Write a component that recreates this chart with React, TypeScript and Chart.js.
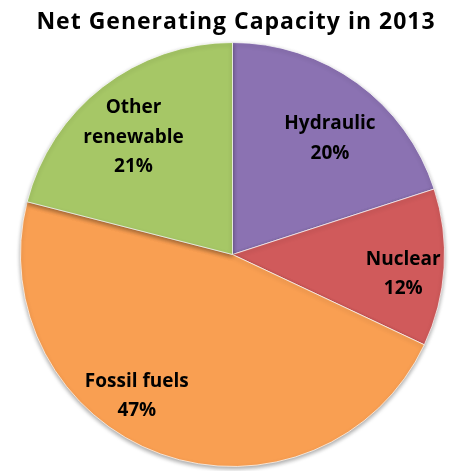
import React, { useEffect, useRef } from "react";
import { Chart, registerables } from "chart.js";

Chart.register(...registerables);

const TITLE = "Net Generating Capacity in 2013";
const categories = ["Hydraulic", "Nuclear", "Fossil fuels", "Other renewable"];
const labelLines = [["Hydraulic"], ["Nuclear"], ["Fossil fuels"], ["Other", "renewable"]];
const values = [20, 12, 47, 21];
const colors = ["#8B72B2", "#D05A5B", "#F99F52", "#A6C766"];
const labelRadius = [0.72, 0.81, 0.8, 0.73];
const labelAngleFrac = [0.551, 0.556, 0.586, 0.474];

const shadowPlugin = {
  id: "sliceShadow",
  beforeDatasetsDraw(chart: any) {
    const ctx = chart.ctx;
    ctx.save();
    ctx.shadowColor = "rgba(0,0,0,0.35)";
    ctx.shadowBlur = 4;
    ctx.shadowOffsetX = 0;
    ctx.shadowOffsetY = 2;
  },
  afterDatasetsDraw(chart: any) {
    chart.ctx.restore();
  },
};

const labelPlugin = {
  id: "sliceLabels",
  afterDatasetsDraw(chart: any) {
    const ctx = chart.ctx;
    const meta = chart.getDatasetMeta(0);
    const total = values.reduce((a, b) => a + b, 0);
    ctx.save();
    ctx.shadowColor = "transparent";
    ctx.fillStyle = "#000";
    ctx.textAlign = "center";
    ctx.textBaseline = "alphabetic";
    ctx.font = "bold 19px 'Open Sans'";
    const cap = 14;
    meta.data.forEach((arc: any, i: number) => {
      const { x, y, startAngle, endAngle, outerRadius } = arc.getProps(
        ["x", "y", "startAngle", "endAngle", "outerRadius"],
        true
      );
      const a = startAngle + (endAngle - startAngle) * labelAngleFrac[i];
      const r = outerRadius * labelRadius[i];
      const cx = x + Math.cos(a) * r;
      const cy = y + Math.sin(a) * r;
      const lines = [...labelLines[i], Math.round((values[i] / total) * 100) + "%"];
      const lh = 29.5;
      const y0 = cy - ((lines.length - 1) * lh) / 2 + cap / 2;
      lines.forEach((t, k) => ctx.fillText(t, cx, y0 + k * lh));
    });
    ctx.restore();
  },
};

const titlePlugin = {
  id: "customTitle",
  afterDraw(chart: any) {
    const ctx = chart.ctx;
    ctx.save();
    ctx.fillStyle = "#000";
    ctx.textAlign = "center";
    ctx.textBaseline = "alphabetic";
    ctx.font = "bold 23px 'Open Sans'";
    (ctx as any).letterSpacing = "1px";
    ctx.fillText(TITLE, 236, 29);
    ctx.restore();
  },
};

export default function App() {
  const ref = useRef<HTMLCanvasElement>(null);
  useEffect(() => {
    document.body.style.margin = "0";
    const chart = new Chart(ref.current!, {
      type: "pie",
      data: {
        labels: categories,
        datasets: [
          {
            data: values,
            backgroundColor: colors,
            borderColor: "rgba(255,255,255,0.7)",
            borderWidth: 1,
          },
        ],
      },
      options: {
        responsive: false,
        animation: false,
        layout: { padding: { left: 18, right: 3, top: 42, bottom: 4 } },
        plugins: {
          legend: { display: false },
          title: { display: false },
          tooltip: { enabled: false },
        },
      },
      plugins: [shadowPlugin, labelPlugin, titlePlugin],
    });
    return () => chart.destroy();
  }, []);
  return (
    <div style={{ width: 450, height: 471, background: "#fff" }}>
      <canvas ref={ref} width={450} height={471} />
    </div>
  );
}
